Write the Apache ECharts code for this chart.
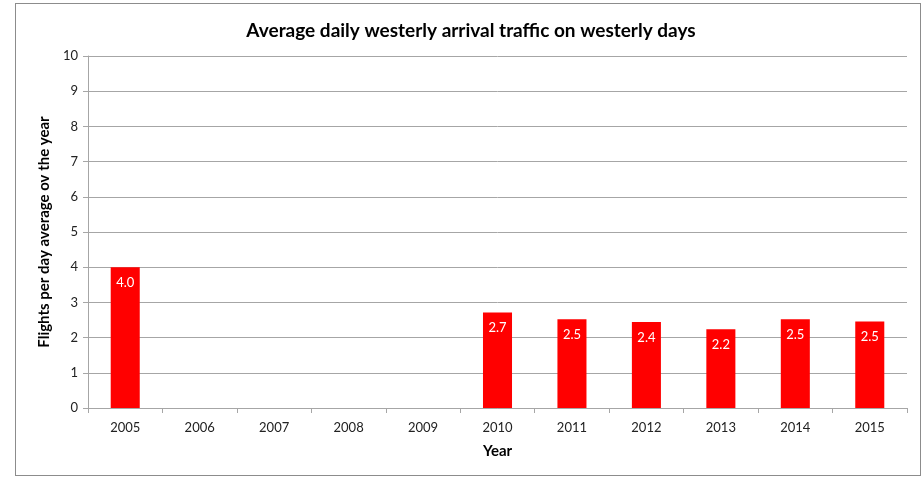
<!DOCTYPE html>
<html>
<head>
<meta charset="utf-8">
<script src="https://cdn.jsdelivr.net/npm/echarts@6/dist/echarts.min.js"></script>
<style>
  html, body { margin: 0; padding: 0; background: #fff; }
  #frame {
    position: absolute; left: 15px; top: 3px;
    width: 906px; height: 473px;
    border: 1px solid #8c8c8c; box-sizing: border-box; background: #fff;
  }
  #main { width: 924px; height: 479px; position: absolute; left: 0; top: 0; }
</style>
</head>
<body>
<div id="frame"></div>
<div id="main"></div>
<script>
// years on the x axis
var years = ['2005', '2006', '2007', '2008', '2009', '2010', '2011', '2012', '2013', '2014', '2015'];
// flights per day, no data for 2006-2009
var flights = [4.0, null, null, null, null, 2.71, 2.52, 2.44, 2.24, 2.52, 2.46];

var chart = echarts.init(document.getElementById('main'));

var option = {
  animation: false,
  textStyle: { fontFamily: 'Lato' },
  title: {
    text: 'Average daily westerly arrival traffic on westerly days',
    left: 466,
    top: 16,
    textAlign: 'center',
    textStyle: { fontSize: 19, fontWeight: 'bold', color: '#000', fontFamily: 'Lato' }
  },
  grid: { left: 88, right: 17, top: 56, bottom: 71, containLabel: false },
  xAxis: {
    type: 'category',
    data: years,
    name: 'Year',
    nameLocation: 'middle',
    nameGap: 36,
    nameTextStyle: { fontSize: 15, fontWeight: 'bold', color: '#000' },
    axisLine: { lineStyle: { color: '#a6a6a6' } },
    axisTick: { show: true, alignWithLabel: false, length: 5, lineStyle: { color: '#a6a6a6' } },
    axisLabel: { color: '#222', fontSize: 13, margin: 13 }
  },
  yAxis: {
    type: 'value',
    min: 0,
    max: 10,
    interval: 1,
    name: 'Flights per day average ov the year',
    nameLocation: 'middle',
    nameGap: 36,
    nameTextStyle: { fontSize: 15, fontWeight: 'bold', color: '#000' },
    axisLine: { show: true, lineStyle: { color: '#a6a6a6' } },
    axisTick: { show: true, length: 5, lineStyle: { color: '#a6a6a6' } },
    axisLabel: { color: '#222', fontSize: 13, margin: 10 },
    splitLine: { lineStyle: { color: '#a6a6a6' } }
  },
  series: [
    {
      type: 'bar',
      data: flights,
      barWidth: '39%',
      itemStyle: { color: '#ff0000' },
      label: {
        show: true,
        position: 'insideTop',
        distance: 9,
        color: '#fff',
        fontSize: 13,
        formatter: function (p) { return p.value == null ? '' : p.value.toFixed(1); }
      }
    }
  ]
};

chart.setOption(option);
</script>
</body>
</html>
